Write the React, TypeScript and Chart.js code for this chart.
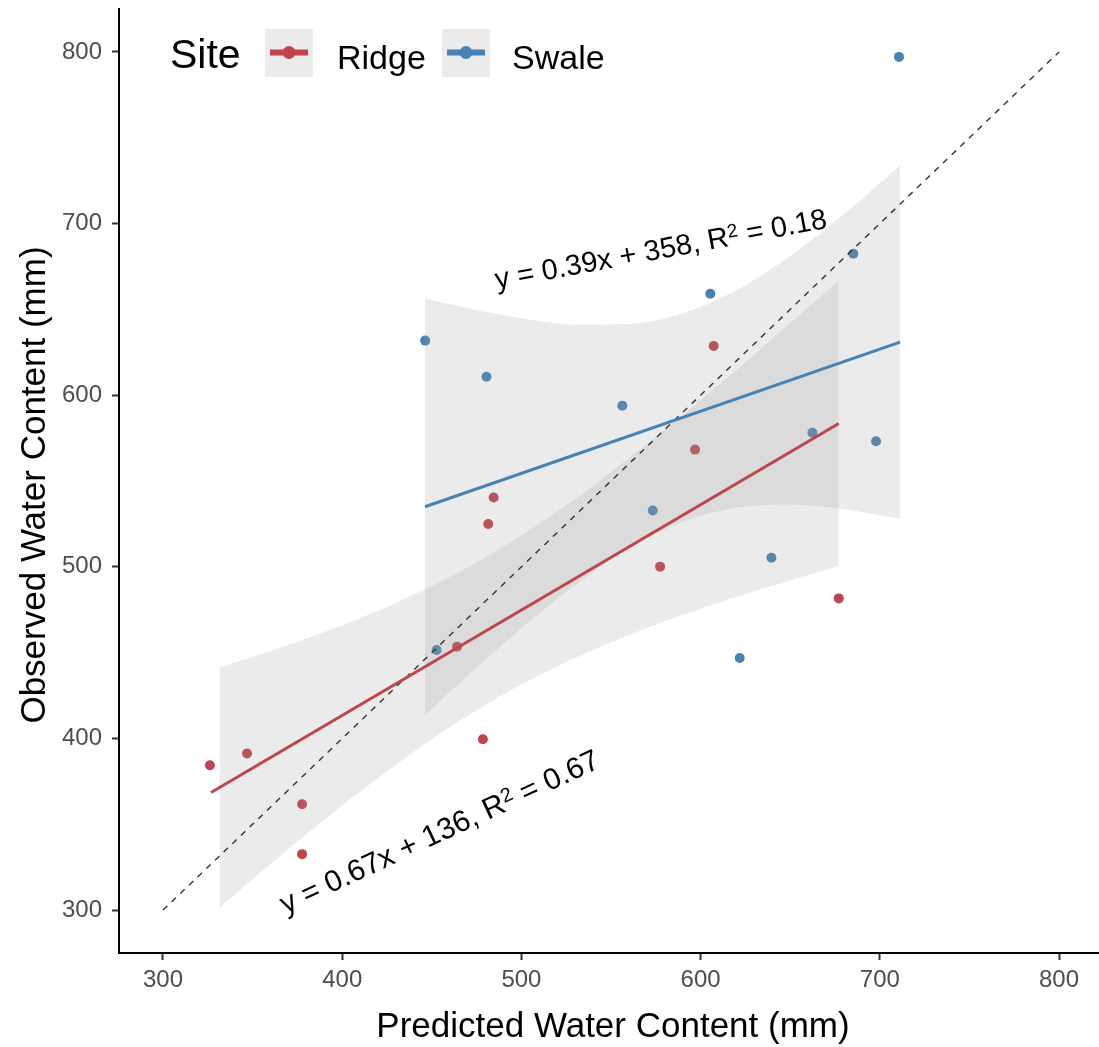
import React, { useEffect, useRef } from 'react';
import { Chart, registerables } from 'chart.js';

Chart.register(...registerables);

// ---------- data ----------
const ridgeX = [326.2, 346.9, 377.6, 377.6, 464.1, 484.5, 481.5, 478.5, 577.4, 596.9, 607.3, 677.1];
const ridgeY = [384.4, 391.2, 361.7, 332.6, 453.5, 540.4, 524.9, 399.5, 500.1, 568.3, 628.7, 481.6];

const swaleX = [446.3, 480.5, 452.7, 556.3, 573.3, 605.4, 621.8, 639.5, 662.4, 685.2, 697.9, 710.7];
const swaleY = [631.8, 610.7, 451.5, 593.9, 532.8, 659.1, 446.9, 505.3, 578.1, 682.4, 573.2, 797.1];

const ridgeFitX = [326.8, 677.1];
const ridgeFitY = [368.5, 583.5];
const swaleFitX = [446.2, 711.3];
const swaleFitY = [535.0, 630.9];

const ridgeBandX = [331.5, 360, 390, 420, 450, 480, 510, 540, 570, 600, 630, 660, 677.1];
const ridgeBandUpper = [441.4, 451.0, 462.0, 474.4, 488.8, 505.6, 525.1, 547.3, 571.5, 597.1, 623.7, 651.1, 666.7];
const ridgeBandLower = [301.4, 326.8, 352.6, 377.0, 399.6, 419.6, 436.9, 451.5, 464.3, 475.5, 485.7, 495.3, 500.3];

const swaleBandX = [446.2, 470, 500, 530, 560, 590, 620, 650, 680, 711.3];
const swaleBandUpper = [656.3, 650.6, 644.8, 641.2, 641.5, 647.7, 661.2, 681.1, 705.5, 733.8];
const swaleBandLower = [413.7, 436.6, 464.2, 489.4, 510.9, 526.3, 534.4, 536.3, 533.5, 528.0];

const oneToOneX = [300, 800];
const oneToOneY = [300, 800];

const xTicks = [300, 400, 500, 600, 700, 800];
const yTicks = [300, 400, 500, 600, 700, 800];

const seriesNames = ['Ridge', 'Swale'];
const legendTitle = 'Site';
const xTitle = 'Predicted Water Content (mm)';
const yTitle = 'Observed Water Content (mm)';

// equation labels: [before superscript, superscript, after], anchor (data), angle (deg)
const swaleEq = ['y = 0.39x + 358, R', '2', ' = 0.18'];
const ridgeEq = ['y = 0.67x + 136, R', '2', ' = 0.67'];
const swaleEqAnchor = { x: 577.7, y: 685.5, angle: -10.5, size: 29 };
const ridgeEqAnchor = { x: 454.1, y: 346.0, angle: -25, size: 30 };

// ---------- style ----------
const W = 1099;
const H = 1047;
const RED = '#BF444B';
const BLUE = '#4682B4';
const BAND = 'rgba(153,153,153,0.2)';
const FONT = '"Liberation Sans", Arial, Helvetica, sans-serif';

const zip = (xs: number[], ys: number[]) => xs.map((x, i) => ({ x, y: ys[i] }));

const annotationPlugin = {
  id: 'annotations',
  afterDraw(chart: any) {
    const ctx: CanvasRenderingContext2D = chart.ctx;
    const xs = chart.scales.x;
    const ys = chart.scales.y;

    const drawEq = (parts: string[], a: { x: number; y: number; angle: number; size: number }) => {
      const px = xs.getPixelForValue(a.x);
      const py = ys.getPixelForValue(a.y);
      ctx.save();
      ctx.translate(px, py);
      ctx.rotate((a.angle * Math.PI) / 180);
      ctx.fillStyle = '#000';
      ctx.textBaseline = 'alphabetic';
      ctx.textAlign = 'left';
      const main = `${a.size}px ${FONT}`;
      const sup = `${Math.round(a.size * 0.67)}px ${FONT}`;
      ctx.font = main;
      const w1 = ctx.measureText(parts[0]).width;
      const w3 = ctx.measureText(parts[2]).width;
      ctx.font = sup;
      const w2 = ctx.measureText(parts[1]).width;
      const total = w1 + w2 + w3;
      let x0 = -total / 2;
      const base = a.size * 0.35;
      ctx.font = main;
      ctx.fillText(parts[0], x0, base);
      x0 += w1;
      ctx.font = sup;
      ctx.fillText(parts[1], x0, base - a.size * 0.28);
      x0 += w2;
      ctx.font = main;
      ctx.fillText(parts[2], x0, base);
      ctx.restore();
    };
    drawEq(swaleEq, swaleEqAnchor);
    drawEq(ridgeEq, ridgeEqAnchor);

    // axis titles
    ctx.save();
    ctx.fillStyle = '#000';
    ctx.font = `35px ${FONT}`;
    ctx.textAlign = 'center';
    ctx.textBaseline = 'alphabetic';
    ctx.fillText(xTitle, 613, 1037);
    ctx.translate(45, 485);
    ctx.rotate(-Math.PI / 2);
    ctx.fillText(yTitle, 0, 0);
    ctx.restore();

    // legend
    ctx.save();
    ctx.fillStyle = '#000';
    ctx.textAlign = 'left';
    ctx.textBaseline = 'alphabetic';
    ctx.font = `41px ${FONT}`;
    ctx.fillText(legendTitle, 170, 68);
    const keys = [
      { x: 265, color: RED, label: seriesNames[0], tx: 337 },
      { x: 442, color: BLUE, label: seriesNames[1], tx: 512 },
    ];
    keys.forEach((k) => {
      ctx.fillStyle = '#EBEBEB';
      ctx.fillRect(k.x, 29, 48, 48);
      ctx.strokeStyle = k.color;
      ctx.lineWidth = 6;
      ctx.lineCap = 'butt';
      ctx.beginPath();
      ctx.moveTo(k.x + 5, 52.5);
      ctx.lineTo(k.x + 43, 52.5);
      ctx.stroke();
      ctx.fillStyle = k.color;
      ctx.beginPath();
      ctx.arc(k.x + 24, 52.5, 6.5, 0, Math.PI * 2);
      ctx.fill();
      ctx.fillStyle = '#000';
      ctx.font = `34px ${FONT}`;
      ctx.fillText(k.label, k.tx, 69);
    });
    ctx.restore();
  },
};

const zeroPad = (s: any) => {
  s.paddingTop = 0;
  s.paddingBottom = 0;
  s.paddingLeft = 0;
  s.paddingRight = 0;
};

export default function App() {
  const ref = useRef<HTMLCanvasElement>(null);

  useEffect(() => {
    const canvas = ref.current;
    if (!canvas) return;
    const lineBase = {
      type: 'line' as const,
      pointRadius: 0,
      pointHoverRadius: 0,
      fill: false,
    };
    const bandEdge = {
      ...lineBase,
      borderColor: 'rgba(0,0,0,0)',
      borderWidth: 0.01,
      cubicInterpolationMode: 'monotone',
    };
    const chart = new Chart(canvas, {
      type: 'scatter',
      data: {
        datasets: [
          { ...lineBase, label: 'ridgeFit', data: zip(ridgeFitX, ridgeFitY), borderColor: RED, borderWidth: 3 },
          { ...lineBase, label: 'swaleFit', data: zip(swaleFitX, swaleFitY), borderColor: BLUE, borderWidth: 3 },
          {
            ...lineBase,
            label: 'oneToOne',
            data: zip(oneToOneX, oneToOneY),
            borderColor: '#333333',
            borderWidth: 1.4,
            borderDash: [6, 6],
          },
          { ...bandEdge, label: 'ridgeUpper', data: zip(ridgeBandX, ridgeBandUpper), backgroundColor: BAND, fill: '+1' },
          { ...bandEdge, label: 'ridgeLower', data: zip(ridgeBandX, ridgeBandLower) },
          { ...bandEdge, label: 'swaleUpper', data: zip(swaleBandX, swaleBandUpper), backgroundColor: BAND, fill: '+1' },
          { ...bandEdge, label: 'swaleLower', data: zip(swaleBandX, swaleBandLower) },
          {
            type: 'scatter',
            label: seriesNames[0],
            data: zip(ridgeX, ridgeY),
            backgroundColor: RED,
            borderWidth: 0,
            pointRadius: 5,
          },
          {
            type: 'scatter',
            label: seriesNames[1],
            data: zip(swaleX, swaleY),
            backgroundColor: BLUE,
            borderWidth: 0,
            pointRadius: 5,
          },
        ] as any,
      },
      options: {
        responsive: false,
        animation: false,
        devicePixelRatio: 1,
        events: [],
        layout: { autoPadding: false, padding: { top: 9, left: 0, right: 0, bottom: 0 } },
        plugins: { legend: { display: false }, tooltip: { enabled: false } },
        scales: {
          x: {
            type: 'linear',
            min: 275.45,
            max: 822.3,
            afterBuildTicks: (s: any) => {
              s.ticks = xTicks.map((v) => ({ value: v }));
            },
            afterFit: (s: any) => {
              s.height = 94;
              zeroPad(s);
            },
            grid: {
              display: true,
              drawOnChartArea: false,
              drawTicks: true,
              tickLength: 7,
              tickWidth: 2,
              tickColor: '#333333',
            },
            border: { display: true, color: '#000', width: 2 },
            ticks: {
              color: '#4D4D4D',
              font: { family: FONT, size: 24 },
              padding: 6,
              maxRotation: 0,
              autoSkip: false,
              callback: (v: any) => String(v),
            },
          },
          y: {
            type: 'linear',
            min: 275,
            max: 825,
            afterBuildTicks: (s: any) => {
              s.ticks = yTicks.map((v) => ({ value: v }));
            },
            afterFit: (s: any) => {
              s.width = 119;
              zeroPad(s);
            },
            grid: {
              display: true,
              drawOnChartArea: false,
              drawTicks: true,
              tickLength: 7,
              tickWidth: 2,
              tickColor: '#333333',
            },
            border: { display: true, color: '#000', width: 2 },
            ticks: {
              color: '#4D4D4D',
              font: { family: FONT, size: 24 },
              padding: 10,
              autoSkip: false,
              callback: (v: any) => String(v),
            },
          },
        },
      } as any,
      plugins: [annotationPlugin],
    });
    return () => chart.destroy();
  }, []);

  return (
    <div style={{ position: 'absolute', left: 0, top: 0, width: W, height: H, background: '#fff' }}>
      <canvas ref={ref} width={W} height={H} style={{ width: W, height: H, display: 'block' }} />
    </div>
  );
}
